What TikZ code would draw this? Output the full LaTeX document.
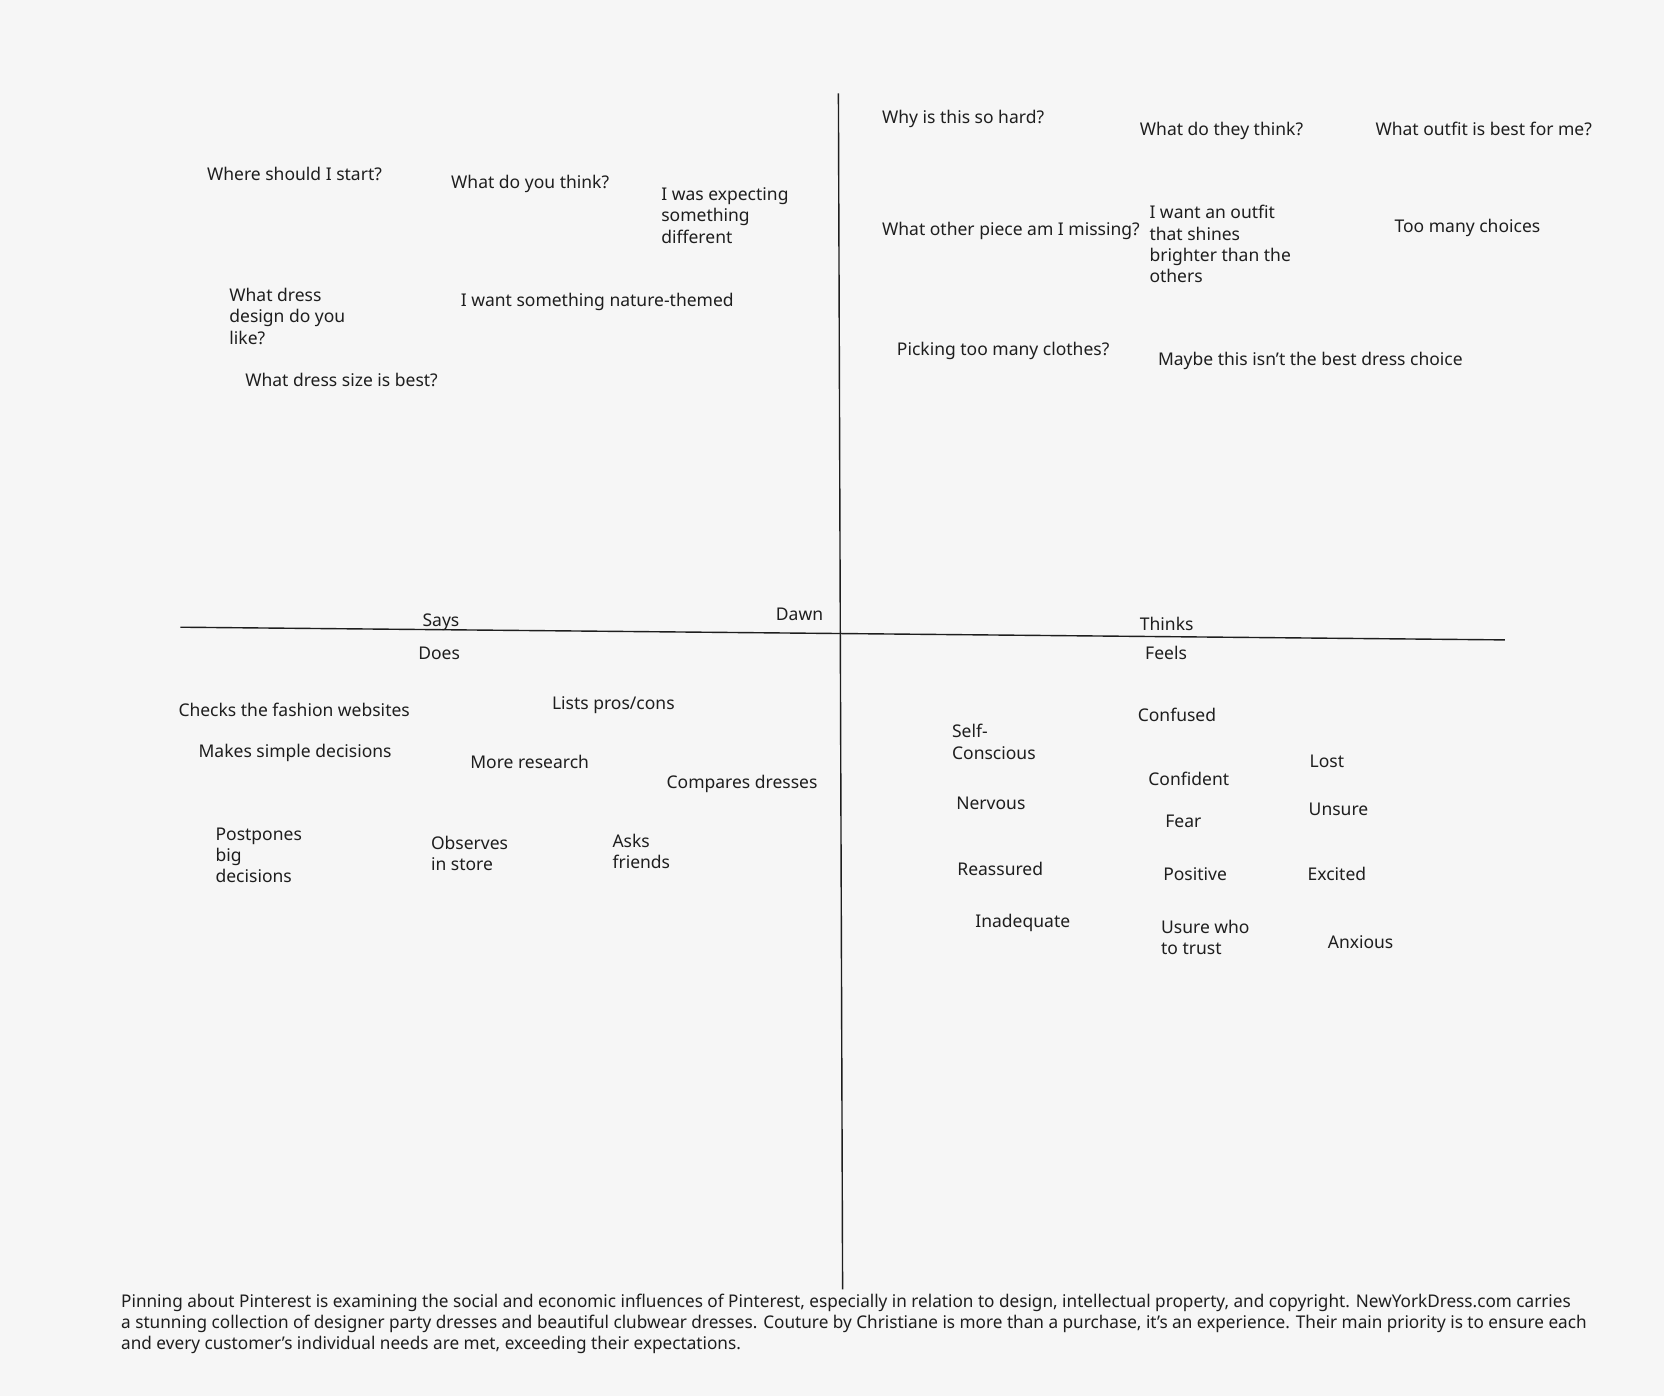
\documentclass[tikz,border=0pt]{standalone}
\usepackage{fontspec}
\setmainfont{Noto Sans}
\usepackage{graphicx}
\definecolor{bg}{HTML}{F6F6F6}
\definecolor{ink}{HTML}{1E1E1E}
\newcommand\lblfont{\fontsize{17.5}{21.3}\selectfont}
\newsavebox\fitbox
\newcommand\fitline[2]{\sbox\fitbox{#2}\pgfmathsetmacro\fitfac{#1/\wd\fitbox}\scalebox{\fitfac}[1]{\usebox\fitbox}}
\begin{document}
\begin{tikzpicture}[x=1pt,y=-1pt,
  lbl/.style={anchor=west, inner sep=0pt, yshift=-3.2pt, font=\lblfont, text=ink, align=left,
    execute at begin node=\strut, execute at end node=\strut},
  axis/.style={draw=ink, line width=1.4pt}]
\useasboundingbox[fill=bg] (0,0) rectangle (1664,1396);
% axes
\coordinate (vtop) at (838.4,93.4);
\coordinate (vbot) at (842.6,1289.4);
\coordinate (hleft) at (180.4,627.2);
\coordinate (hright) at (1504.8,639.9);
\draw[axis] (vtop) -- (vbot);
\draw[axis] (hleft) -- (hright);
% Thinks quadrant
\node[lbl] (t1) at (881.9,115.7) {Why is this so hard?};
\node[lbl] (t2) at (1139.7,128.4) {What do they think?};
\node[lbl] (t3) at (1375.3,128.4) {What outfit is best for me?};
\node[lbl] (t4) at (881.9,228.2) {What other piece am I missing?};
\node[lbl] (t5) at (1149.3,244.1) {I want an outfit\\that shines\\brighter than the\\others};
\node[lbl] (t6) at (1394.4,225.0) {Too many choices};
\node[lbl] (t7) at (896.7,348.1) {Picking too many clothes?};
\node[lbl] (t8) at (1157.8,357.6) {Maybe this isn’t the best dress choice};
% Says quadrant
\node[lbl] (s1) at (206.9,173.0) {Where should I start?};
\node[lbl] (s2) at (451.0,181.5) {What do you think?};
\node[lbl] (s3) at (661.1,215.4) {I was expecting\\something\\different};
\node[lbl] (s4) at (229.2,316.2) {What dress\\design do you\\like?};
\node[lbl] (s5) at (460.6,299.3) {I want something nature-themed};
\node[lbl] (s6) at (245.1,378.8) {What dress size is best?};
% quadrant titles
\node[lbl] (says) at (422.4,618.7) {Says};
\node[lbl] (dawn) at (775.7,613.4) {Dawn};
\node[lbl] (thinks) at (1139.7,622.9) {Thinks};
\node[lbl] (does) at (418.1,651.6) {Does};
\node[lbl] (feels) at (1145.0,651.6) {Feels};
% Does quadrant
\node[lbl] (d1) at (178.3,708.9) {Checks the fashion websites};
\node[lbl] (d2) at (551.8,702.5) {Lists pros/cons};
\node[lbl] (d3) at (198.4,750.3) {Makes simple decisions};
\node[lbl] (d4) at (470.1,760.9) {More research};
\node[lbl] (d5) at (666.4,781.0) {Compares dresses};
\node[lbl] (d6) at (215.4,855.3) {Postpones\\big\\decisions};
\node[lbl] (d7) at (430.8,853.2) {Observes\\in store};
\node[lbl] (d8) at (612.3,851.1) {Asks\\friends};
% Feels quadrant
\node[lbl] (f1) at (1137.6,714.2) {Confused};
\node[lbl] (f2) at (951.9,741.8) {Self-\\Conscious};
\node[lbl] (f3) at (1309.5,759.8) {Lost};
\node[lbl] (f4) at (1148.2,777.9) {Confident};
\node[lbl] (f5) at (956.1,802.3) {Nervous};
\node[lbl] (f6) at (1308.5,807.6) {Unsure};
\node[lbl] (f7) at (1165.2,820.3) {Fear};
\node[lbl] (f8) at (957.2,868.1) {Reassured};
\node[lbl] (f9) at (1163.1,873.4) {Positive};
\node[lbl] (f10) at (1307.4,873.4) {Excited};
\node[lbl] (f11) at (975.2,920.1) {Inadequate};
\node[lbl] (f12) at (1160.9,937.0) {Usure who\\to trust};
\node[lbl] (f13) at (1327.6,941.3) {Anxious};
% paragraph
\node[lbl] (p1) at (121.0,1300.0) {\fitline{1449.6}{Pinning about Pinterest is examining the social and economic influences of Pinterest, especially in relation to design, intellectual property, and copyright. NewYorkDress.com carries}};
\node[lbl] (p2) at (121.0,1321.2) {\fitline{1465.5}{a stunning collection of designer party dresses and beautiful clubwear dresses. Couture by Christiane is more than a purchase, it’s an experience. Their main priority is to ensure each}};
\node[lbl] (p3) at (121.0,1342.4) {\fitline{619.7}{and every customer’s individual needs are met, exceeding their expectations.}};
\end{tikzpicture}
\end{document}
